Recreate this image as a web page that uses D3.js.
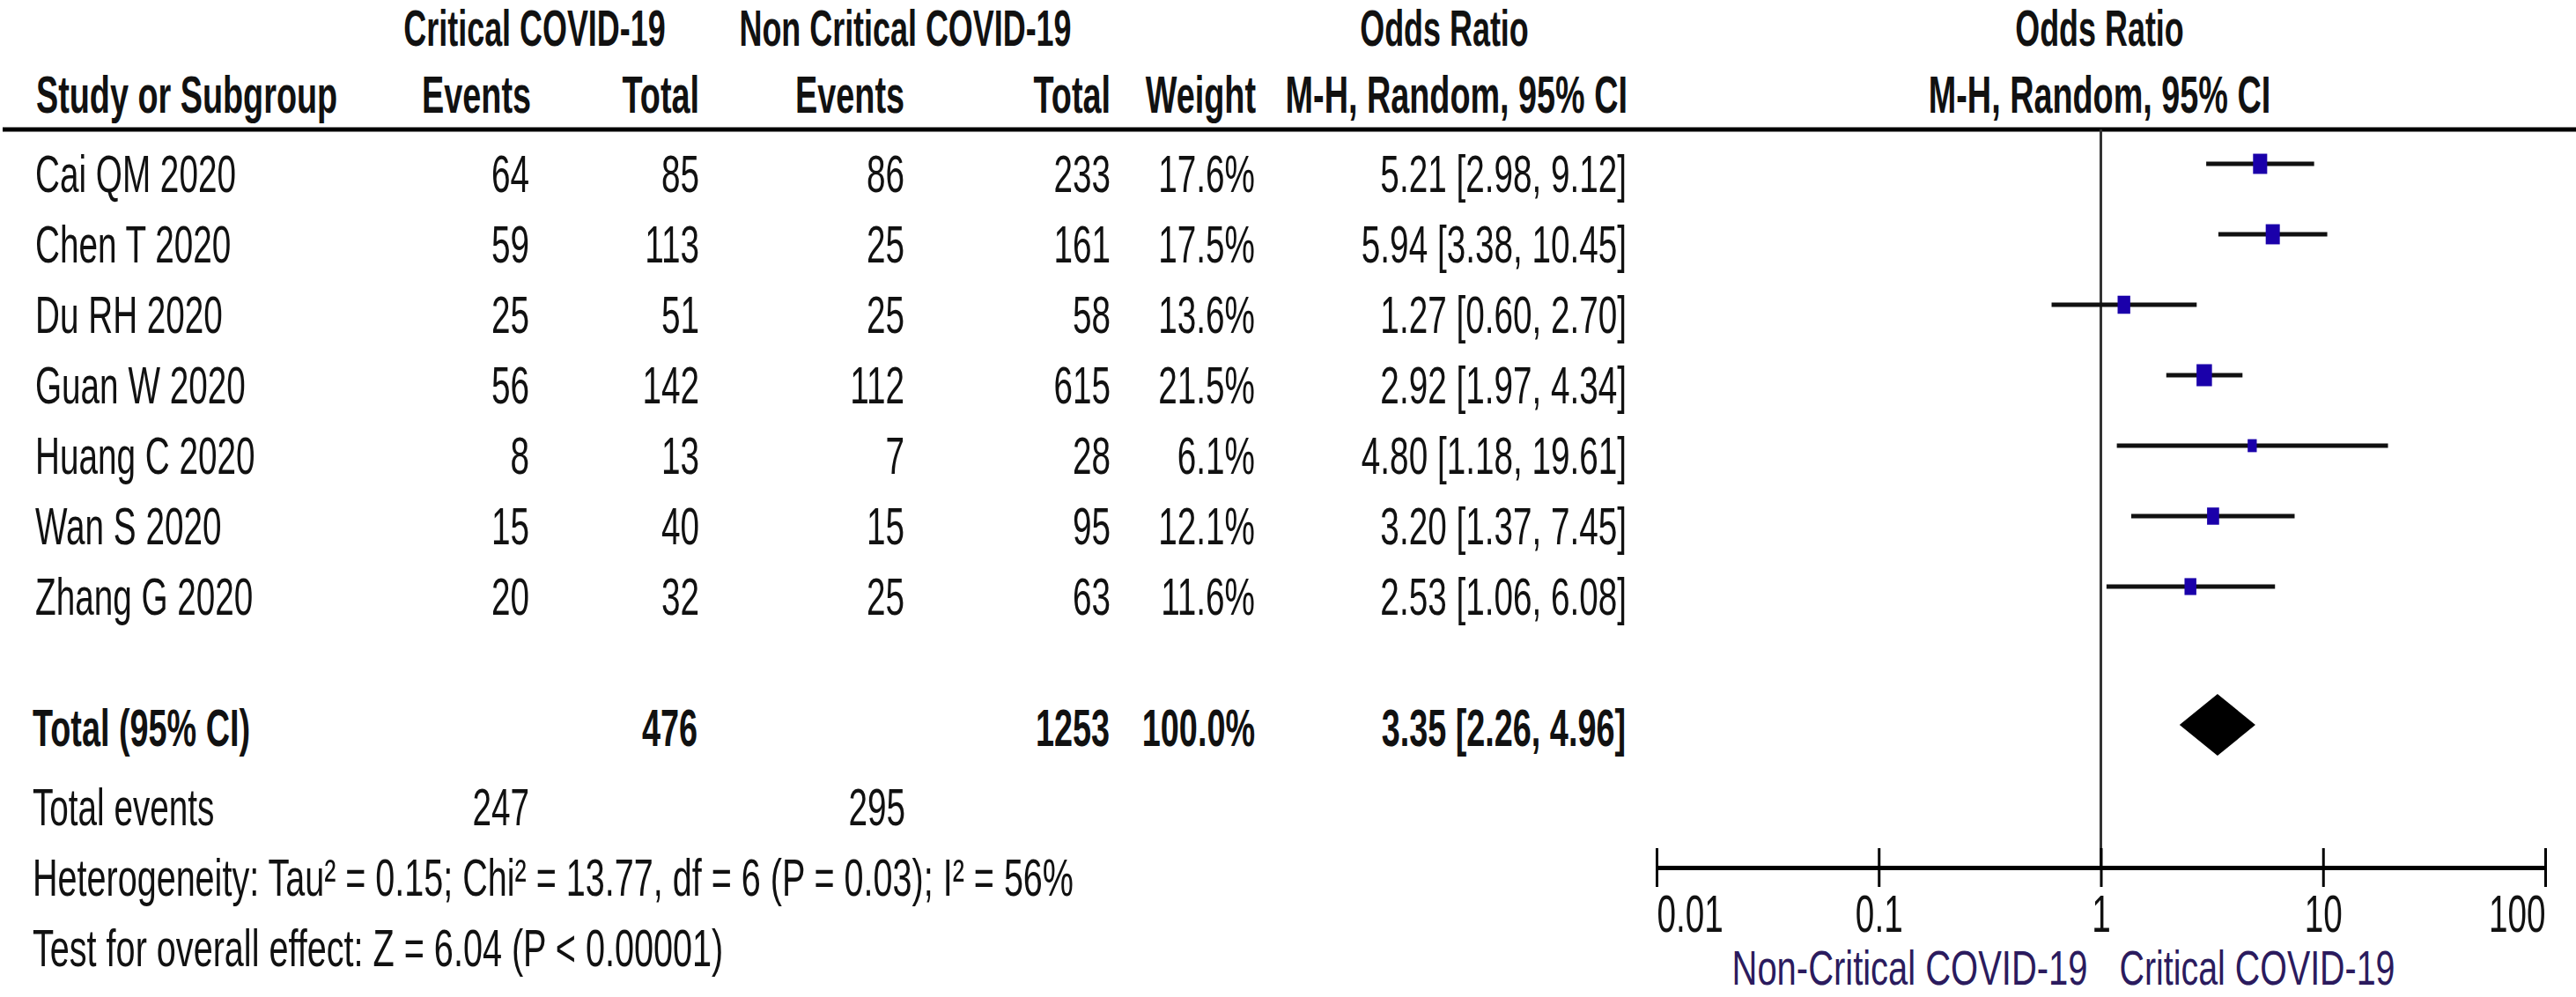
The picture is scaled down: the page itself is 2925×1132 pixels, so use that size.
<!doctype html>
<html>

<head>
  <meta charset="UTF-8">
  <title>Forest plot</title>
  <script src="https://d3js.org/d3.v7.min.js"></script>
  <style>
    body { margin: 0; background: #fff; }
    text { font-family: "Liberation Sans", Arial, sans-serif; fill: #111; }
  </style>
</head>

<body>
  <script>
    var W = 2925, H = 1132;

    // study rows
    var studies = ["Cai QM 2020", "Chen T 2020", "Du RH 2020", "Guan W 2020", "Huang C 2020", "Wan S 2020", "Zhang G 2020"];
    var critEvents = [64, 59, 25, 56, 8, 15, 20];
    var critTotal = [85, 113, 51, 142, 13, 40, 32];
    var nonEvents = [86, 25, 25, 112, 7, 15, 25];
    var nonTotal = [233, 161, 58, 615, 28, 95, 63];
    var weights = [17.6, 17.5, 13.6, 21.5, 6.1, 12.1, 11.6];
    var oddsRatio = [5.21, 5.94, 1.27, 2.92, 4.80, 3.20, 2.53];
    var ciLow = [2.98, 3.38, 0.60, 1.97, 1.18, 1.37, 1.06];
    var ciHigh = [9.12, 10.45, 2.70, 4.34, 19.61, 7.45, 6.08];

    // pooled result
    var pooled = [3.35, 2.26, 4.96];
    var totals = [476, 1253];
    var totalEvents = [247, 295];

    var tickValues = [0.01, 0.1, 1, 10, 100];
    var tickLabels = ["0.01", "0.1", "1", "10", "100"];

    var svg = d3.select("body").append("svg")
      .attr("width", W)
      .attr("height", H);

    var SX = 0.645, SXB = 0.63, FS = 60;

    function txt(x, y, s, anchor, bold, fill, size) {
      return svg.append("text")
        .attr("transform", "translate(" + x + "," + y + ") scale(" + (bold ? SXB : SX) + ",1)")
        .attr("text-anchor", anchor || "start")
        .attr("font-size", size || FS)
        .attr("font-weight", bold ? "bold" : "normal")
        .style("fill", fill || "#111")
        .text(s);
    }

    // squeeze a text to a given width
    function fit(t, x, y, w) {
      var len = t.node().getComputedTextLength();
      t.attr("transform", "translate(" + x + "," + y + ") scale(" + (w / len) + ",1)");
    }

    function ci(o, l, h) {
      return o.toFixed(2) + " [" + l.toFixed(2) + ", " + h.toFixed(2) + "]";
    }

    // headers
    txt(607, 52, "Critical COVID-19", "middle", true, null, 57);
    txt(1028, 52, "Non Critical COVID-19", "middle", true, null, 57);
    txt(1640, 52, "Odds Ratio", "middle", true, null, 57);
    txt(2384, 52, "Odds Ratio", "middle", true, null, 57);

    txt(41, 128, "Study or Subgroup", "start", true);
    txt(603, 128, "Events", "end", true);
    txt(794, 128, "Total", "end", true);
    txt(1027, 128, "Events", "end", true);
    txt(1261, 128, "Total", "end", true);
    txt(1426, 128, "Weight", "end", true);
    txt(1848, 128, "M-H, Random, 95% CI", "end", true);
    txt(2384, 128, "M-H, Random, 95% CI", "middle", true);

    svg.append("line")
      .attr("x1", 3).attr("x2", W)
      .attr("y1", 147).attr("y2", 147)
      .attr("stroke", "#000").attr("stroke-width", 5);

    // scales
    var x = d3.scaleLog().domain([0.01, 100]).range([1881, 2890]);
    var y = d3.scaleLinear().domain([0, 6]).range([186, 666]);
    var size = d3.scaleSqrt().domain([0, 21.5]).range([3, 25]);

    // table rows
    studies.forEach(function(s, i) {
      var b = y(i) + 32;
      txt(40, b, s, "start");
      txt(601, b, critEvents[i], "end");
      txt(794, b, critTotal[i], "end");
      txt(1027, b, nonEvents[i], "end");
      txt(1261, b, nonTotal[i], "end");
      txt(1425, b, weights[i].toFixed(1) + "%", "end");
      txt(1847, b, ci(oddsRatio[i], ciLow[i], ciHigh[i]), "end");
    });

    txt(37, 847, "Total (95% CI)", "start", true);
    txt(792, 847, totals[0], "end", true);
    txt(1260, 847, totals[1], "end", true);
    txt(1425, 847, "100.0%", "end", true);
    txt(1846, 847, ci(pooled[0], pooled[1], pooled[2]), "end", true);

    txt(37, 937, "Total events", "start");
    txt(601, 937, totalEvents[0], "end");
    txt(1028, 937, totalEvents[1], "end");
    var het = txt(37, 1017, "Heterogeneity: Tau\u00b2 = 0.15; Chi\u00b2 = 13.77, df = 6 (P = 0.03); I\u00b2 = 56%", "start");
    fit(het, 37, 1017, 1182);
    var ovr = txt(37, 1097, "Test for overall effect: Z = 6.04 (P < 0.00001)", "start");
    fit(ovr, 37, 1097, 784);

    // line of no effect
    svg.append("line")
      .attr("x1", x(1)).attr("x2", x(1))
      .attr("y1", 147).attr("y2", 985)
      .attr("stroke", "#333").attr("stroke-width", 3);

    // CI lines
    svg.selectAll(".ci").data(studies).enter().append("line")
      .attr("class", "ci")
      .attr("x1", function(d, i) { return x(ciLow[i]); })
      .attr("x2", function(d, i) { return x(ciHigh[i]); })
      .attr("y1", function(d, i) { return y(i); })
      .attr("y2", function(d, i) { return y(i); })
      .attr("stroke", "#111").attr("stroke-width", 5);

    // weight squares
    svg.selectAll(".sq").data(studies).enter().append("rect")
      .attr("class", "sq")
      .attr("x", function(d, i) { return x(oddsRatio[i]) - size(weights[i]) * 0.35; })
      .attr("y", function(d, i) { return y(i) - size(weights[i]) / 2; })
      .attr("width", function(d, i) { return size(weights[i]) * 0.7; })
      .attr("height", function(d, i) { return size(weights[i]); })
      .attr("fill", "#1a00aa");

    // pooled diamond
    var cy = 823;
    svg.append("polygon")
      .attr("points", [
        [x(pooled[1]), cy], [x(pooled[0]), cy - 35],
        [x(pooled[2]), cy], [x(pooled[0]), cy + 35]
      ].map(function(p) { return p.join(","); }).join(" "))
      .attr("fill", "#000");

    // axis
    var axis = d3.axisBottom(x)
      .tickValues(tickValues)
      .tickFormat(function(d, i) { return tickLabels[i]; })
      .tickSizeInner(22)
      .tickSizeOuter(0)
      .tickPadding(0);

    var ax = svg.append("g")
      .attr("transform", "translate(0,985)")
      .call(axis);

    ax.select(".domain").attr("stroke", "#000").attr("stroke-width", 5);
    ax.selectAll(".tick line")
      .attr("y1", -22).attr("y2", 22)
      .attr("stroke", "#000").attr("stroke-width", 3);
    ax.selectAll(".tick text")
      .attr("y", 73).attr("dy", null)
      .attr("font-size", 60)
      .attr("transform", "scale(" + SX + ",1)")
      .attr("text-anchor", function(d, i) { return i === 0 ? "start" : (i === tickValues.length - 1 ? "end" : "middle"); })
      .style("fill", "#111");

    var favL = txt(x(1) - 15, 1118, "Non-Critical COVID-19", "end", false, "#2b1b5e", 56);
    fit(favL, x(1) - 15, 1118, 404);
    var favR = txt(x(1) + 21, 1118, "Critical COVID-19", "start", false, "#2b1b5e", 56);
    fit(favR, x(1) + 21, 1118, 313);
  </script>
</body>

</html>
